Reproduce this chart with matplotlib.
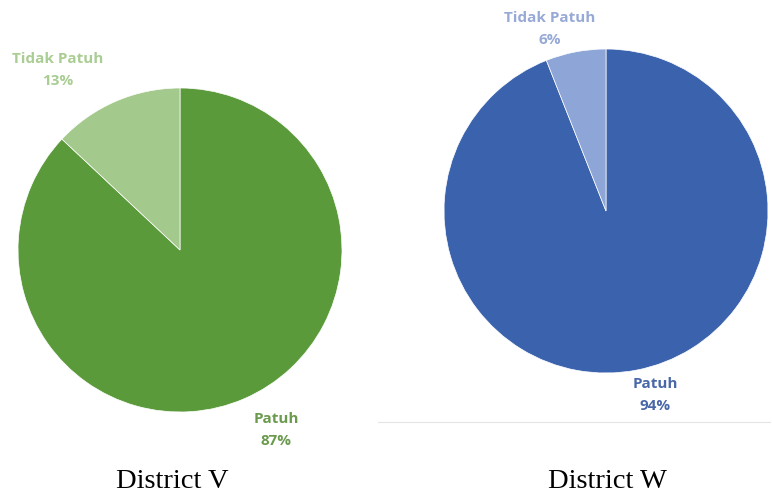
import matplotlib.pyplot as plt
from matplotlib.lines import Line2D

# data
labels = ["Patuh", "Tidak Patuh"]
district_v = [87, 13]
district_w = [94, 6]
captions = ["District V", "District W"]

green_colors = ["#5b9a3b", "#a4c98c"]
blue_colors = ["#3b63ad", "#8ea5d8"]

W, H = 772, 497
fig = plt.figure(figsize=(W / 100, H / 100), dpi=100)


def px_axes(x0, y_top, size):
    # pixel box -> figure fraction
    return fig.add_axes([x0 / W, (H - y_top - size) / H, size / W, size / H])


def px_text(x, y, s, **kw):
    fig.text(x / W, 1 - y / H, s, ha="center", va="center", **kw)


ax1 = px_axes(18, 88, 324)
ax1.pie(district_v, colors=green_colors, startangle=90, counterclock=False,
        radius=1, wedgeprops=dict(linewidth=0.5, edgecolor="white"))
ax1.set_xlim(-1, 1)
ax1.set_ylim(-1, 1)

ax2 = px_axes(444, 49, 324)
ax2.pie(district_w, colors=blue_colors, startangle=90, counterclock=False,
        radius=1, wedgeprops=dict(linewidth=0.5, edgecolor="white"))
ax2.set_xlim(-1, 1)
ax2.set_ylim(-1, 1)

lbl_font = dict(fontsize=11, fontweight="bold", family="Open Sans", linespacing=1.65)

px_text(58, 70, f"{labels[1]}\n{district_v[1]}%", color="#a9cd93", **lbl_font)
px_text(276, 430, f"{labels[0]}\n{district_v[0]}%", color="#6a9a4e", **lbl_font)
px_text(550, 29, f"{labels[1]}\n{district_w[1]}%", color="#97a9d6", **lbl_font)
px_text(655, 395, f"{labels[0]}\n{district_w[0]}%", color="#4a67a8", **lbl_font)

# faint baseline under the right chart
fig.add_artist(Line2D([378 / W, 770 / W], [1 - 422 / H, 1 - 422 / H],
                      color="#e4e4e4", linewidth=0.8))

cap_font = dict(fontsize=20.5, family="Liberation Serif", color="black")
px_text(172, 481, captions[0], **cap_font)
px_text(607, 481, captions[1], **cap_font)

fig.savefig("out.png", dpi=100)
